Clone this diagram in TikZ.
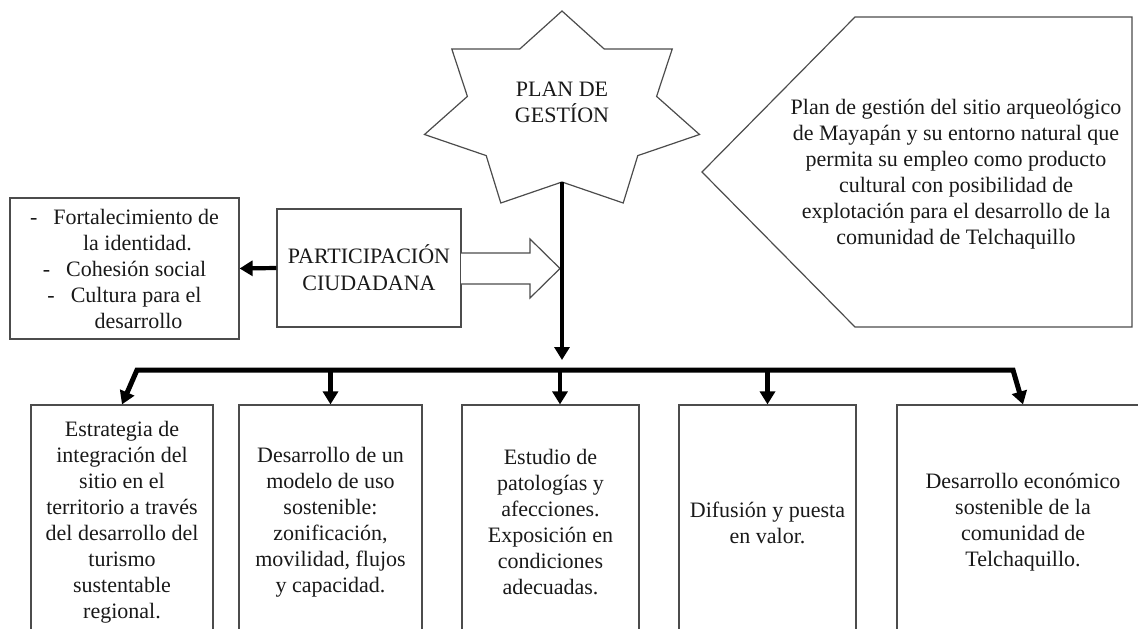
\documentclass[tikz,border=0pt]{standalone}
\usepackage{fontspec}
\setmainfont{Liberation Serif}
\usetikzlibrary{arrows.meta,calc}
\begin{document}
\begin{tikzpicture}[x=1pt,y=-1pt,
  every node/.style={font=\fontsize{22}{26}\selectfont, text=black!90},
  outline/.style={draw=black!70, line width=1.2pt, line join=miter},
  boxsty/.style={outline, rectangle, align=center, inner sep=0pt},
  heavy/.style={line width=4.2pt, -{Triangle[length=13pt,width=15pt]}},
  heavytwo/.style={line width=5pt, line join=miter, {Triangle[length=13pt,width=15pt]}-{Triangle[length=13pt,width=15pt]}},
]
\useasboundingbox (0,0) rectangle (1138,629);
\clip (0,0) rectangle (1138,629);

% star
\draw[outline, fill=white] (562,11) -- (604.1,48.9) -- (672.2,49) -- (656.6,96.4)
  -- (699.5,134.5) -- (637.8,155.6) -- (623.2,203) -- (562,182) -- (500.8,203)
  -- (486.2,155.6) -- (424.5,134.5) -- (467.4,96.4) -- (451.8,49) -- (519.9,48.9) -- cycle;
\node[align=center] (plan) at (562,102) {PLAN DE\\GESTÍON};

% pentagon callout
\draw[outline] (855,17) -- (1132,17) -- (1132,327) -- (855,327) -- (702,172) -- cycle;
\node[align=center] (goal) at (956,174.5) {Plan de gestión del sitio arqueológico\\de Mayapán y su entorno natural que\\permita su empleo como producto\\cultural con posibilidad de\\explotación para el desarrollo de la\\comunidad de Telchaquillo};

% left list box
\node[boxsty, minimum width=229pt, minimum height=141pt] (ident) at (124.5,268.5)
  {-\hspace{16pt}Fortalecimiento de\\\hspace*{26pt}la identidad.\\-\hspace{16pt}Cohesión social\\-\hspace{16pt}Cultura para el\\\hspace*{28pt}desarrollo};

% participation box
\node[boxsty, minimum width=184pt, minimum height=118pt, font=\fontsize{22}{27}\selectfont] (parti) at (369,268) {PARTICIPACIÓN\\CIUDADANA};

% block arrow
\draw[outline, fill=white] (461,253) -- (530,253) -- (530,239) -- (560,268.5) -- (530,298) -- (530,284) -- (461,284);

% vertical connector from star
\coordinate (starbot) at (562,182);
\coordinate (vtip) at (562,360);
\draw[heavy] (starbot) -- (vtip);

% left arrow
\draw[heavy] (parti.west) -- (ident.east);

% bottom boxes
\node[boxsty, minimum width=182pt, minimum height=235pt] (b1) at (122,522.5)
  {Estrategia de\\integración del\\sitio en el\\territorio a través\\del desarrollo del\\turismo\\sustentable\\regional.};
\node[boxsty, minimum width=183pt, minimum height=235pt] (b2) at (330.5,522.5)
  {Desarrollo de un\\modelo de uso\\sostenible:\\zonificación,\\movilidad, flujos\\y capacidad.};
\node[boxsty, minimum width=177pt, minimum height=235pt] (b3) at (550.5,522.5)
  {Estudio de\\patologías y\\afecciones.\\Exposición en\\condiciones\\adecuadas.};
\node[boxsty, minimum width=177pt, minimum height=235pt] (b4) at (767.5,522.5)
  {Difusión y puesta\\en valor.};
\node[boxsty, minimum width=252pt, minimum height=235pt] (b5) at (1023,522.5)
  {Desarrollo económico\\sostenible de la\\comunidad de\\Telchaquillo.};

% distribution bar
\coordinate (barL) at (137,370);
\coordinate (barR) at (1013,370);
\coordinate (j3) at (560,370);
\draw[heavytwo] (b1.north) -- (barL) -- (barR) -- (b5.north);
\draw[heavy] (b2.north |- barL) -- (b2.north);
\draw[heavy] (j3) -- (j3 |- b3.north);
\draw[heavy] (b4.north |- barL) -- (b4.north);
\end{tikzpicture}
\end{document}
